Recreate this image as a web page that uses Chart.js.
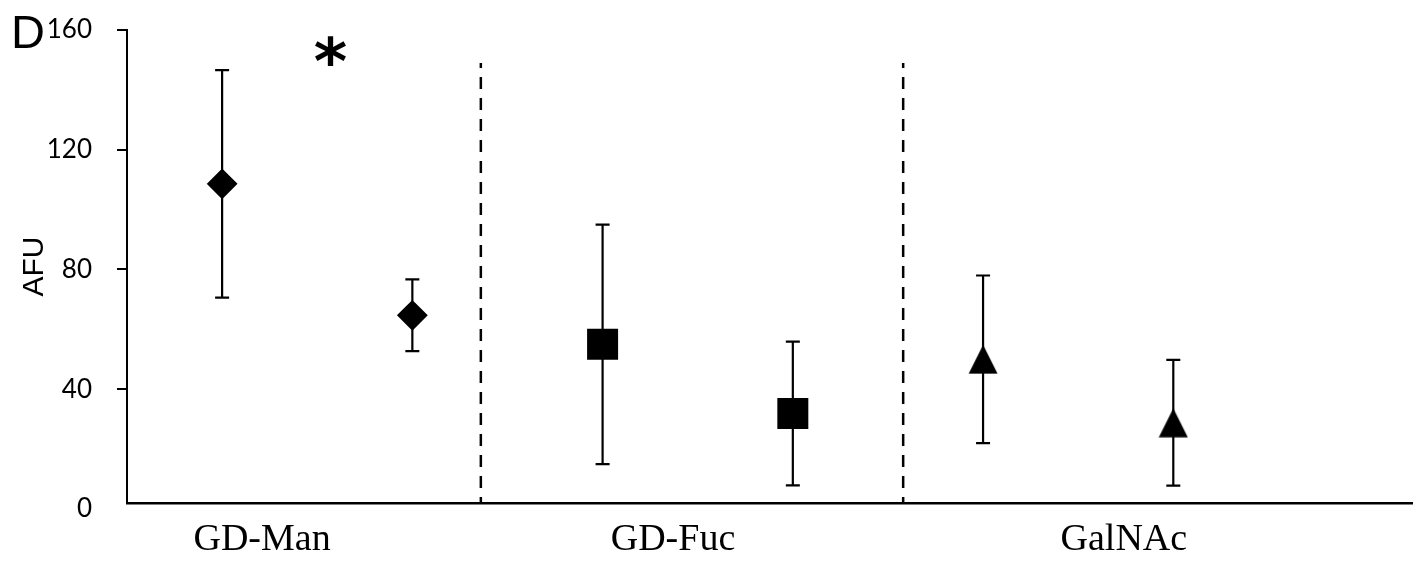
<!DOCTYPE html>
<html>
<head>
<meta charset="utf-8">
<script src="https://cdn.jsdelivr.net/npm/chart.js@4.4.0/dist/chart.umd.min.js"></script>
<style>
  html, body { margin: 0; padding: 0; background: #fff; }
</style>
</head>
<body>
<canvas id="myChart" width="1413" height="561"></canvas>
<script>
// group names and where their labels sit on the x scale
var groupNames = ["GD-Man", "GD-Fuc", "GalNAc"]
var groupLabelX = [0.21, 2.37, 4.74]

// mean AFU, two samples per group
var manValues = [108.6, 64.7]
var fucValues = [55.0, 31.9]
var galValues = [50.0, 28.8]

// error bars (+/-)
var manErrors = [38.0, 12.0]
var fucErrors = [40.0, 24.0]
var galErrors = [28.0, 21.0]

var yTicks = [0, 40, 80, 120, 160]

// dashed separators between the groups
var separatorX = [1.36, 3.58]
var separatorTop = 149

// significance mark
var starX = 0.57
var starY = 147.5


function points(values, errors, start) {
  var res = []
  for (var i = 0; i < values.length; i++) {
    res.push({ x: start + i, y: values[i], err: errors[i] })
  }
  return res
}

function makeTriangle(w, h) {
  var c = document.createElement("canvas")
  c.width = w
  c.height = h
  var g = c.getContext("2d")
  g.fillStyle = "#000"
  g.beginPath()
  g.moveTo(w / 2, 0.5)
  g.lineTo(w - 0.5, h - 0.5)
  g.lineTo(0.5, h - 0.5)
  g.closePath()
  g.fill()
  return c
}

// x axis runs to the right edge of the canvas
var stretchRight = {
  id: "stretchRight",
  afterLayout: function(chart) {
    var x = chart.scales.x
    chart.chartArea.right = chart.width
    chart.chartArea.width = chart.chartArea.right - chart.chartArea.left
    x.right = chart.width
    x.width = x.right - x.left
    x.configure()
  }
}

var errorBars = {
  id: "errorBars",
  beforeDatasetsDraw: function(chart) {
    var ctx = chart.ctx
    var y = chart.scales.y
    ctx.save()
    ctx.strokeStyle = "#000"
    ctx.lineWidth = 2.2
    chart.data.datasets.forEach(function(ds, di) {
      if (!ds.errorBars) return
      var meta = chart.getDatasetMeta(di)
      meta.data.forEach(function(pt, i) {
        var d = ds.data[i]
        var top = y.getPixelForValue(d.y + d.err)
        var bot = y.getPixelForValue(d.y - d.err)
        var px = pt.x
        ctx.beginPath()
        ctx.moveTo(px, top)
        ctx.lineTo(px, bot)
        ctx.moveTo(px - 7, top)
        ctx.lineTo(px + 7, top)
        ctx.moveTo(px - 7, bot)
        ctx.lineTo(px + 7, bot)
        ctx.stroke()
      })
    })
    ctx.restore()
  }
}

var extraText = {
  id: "extraText",
  afterDraw: function(chart) {
    var ctx = chart.ctx
    ctx.save()
    ctx.fillStyle = "#000"
    // panel letter
    ctx.font = "47px 'Liberation Sans Narrow', 'Liberation Sans', sans-serif"
    ctx.textAlign = "left"
    ctx.textBaseline = "alphabetic"
    ctx.fillText("D", 11, 48)
    // asterisk
    ctx.font = "bold 64px 'DejaVu Sans', sans-serif"
    ctx.textAlign = "center"
    ctx.textBaseline = "middle"
    ctx.fillText("*", chart.scales.x.getPixelForValue(starX), chart.scales.y.getPixelForValue(starY))
    ctx.restore()
  }
}

var separators = []
for (var s = 0; s < separatorX.length; s++) {
  separators.push({
    type: "line",
    data: [{ x: separatorX[s], y: 0 }, { x: separatorX[s], y: separatorTop }],
    borderColor: "#000",
    borderWidth: 2.5,
    borderDash: [12, 9],
    pointRadius: 0,
    fill: false
  })
}

var ctx = document.getElementById("myChart")
var myChart = new Chart(ctx, {
  type: "scatter",
  data: {
    datasets: separators.concat([
      {
        data: points(manValues, manErrors, 0),
        errorBars: true,
        pointStyle: "rectRot",
        pointRadius: 14,
        backgroundColor: "#000",
        borderColor: "#000",
        borderWidth: 2
      },
      {
        data: points(fucValues, fucErrors, 2),
        errorBars: true,
        pointStyle: "rect",
        pointRadius: 20.5,
        backgroundColor: "#000",
        borderColor: "#000",
        borderWidth: 2
      },
      {
        data: points(galValues, galErrors, 4),
        errorBars: true,
        pointStyle: makeTriangle(30, 30),
        pointRadius: 15,
        backgroundColor: "#000",
        borderColor: "#000"
      }
    ])
  },
  options: {
    responsive: false,
    animation: false,
    events: [],
    layout: { padding: { top: 30, right: 0, left: 0, bottom: 0 } },
    plugins: {
      legend: { display: false },
      tooltip: { enabled: false }
    },
    scales: {
      x: {
        type: "linear",
        min: -0.5,
        max: 6.26,
        grid: { display: false },
        border: { display: true, color: "#000", width: 2.5 },
        afterBuildTicks: function(scale) {
          scale.ticks = groupLabelX.map(function(v) { return { value: v } })
        },
        afterFit: function(scale) {
          scale.height = 58
          scale.paddingLeft = 0
          scale.paddingRight = 0
        },
        ticks: {
          color: "#000",
          padding: 6,
          maxRotation: 0,
          autoSkip: false,
          font: { family: "'Liberation Serif', 'Times New Roman', serif", size: 38 },
          callback: function(v) {
            var i = groupLabelX.indexOf(v)
            return i >= 0 ? groupNames[i] : ""
          }
        }
      },
      y: {
        min: 2,
        max: 160,
        bounds: "data",
        afterBuildTicks: function(scale) {
          scale.ticks = yTicks.map(function(v) { return { value: v } })
        },
        afterFit: function(scale) {
          scale.width = 127
          scale.paddingTop = 0
          scale.paddingBottom = 0
        },
        grid: {
          drawOnChartArea: false,
          drawTicks: true,
          tickLength: 10,
          lineWidth: 2,
          color: function(c) { return c.tick && c.tick.value === 0 ? "rgba(0,0,0,0)" : "#000" }
        },
        border: { display: true, color: "#000", width: 2 },
        ticks: {
          color: "#000",
          padding: 25,
          font: { family: "Lato, 'Open Sans', sans-serif", size: 26 }
        },
        title: {
          display: true,
          text: "AFU",
          color: "#000",
          padding: { top: 17, bottom: 0 },
          font: { family: "'Liberation Sans', Arial, sans-serif", size: 30 }
        }
      }
    }
  },
  plugins: [stretchRight, errorBars, extraText]
})
</script>
</body>
</html>
